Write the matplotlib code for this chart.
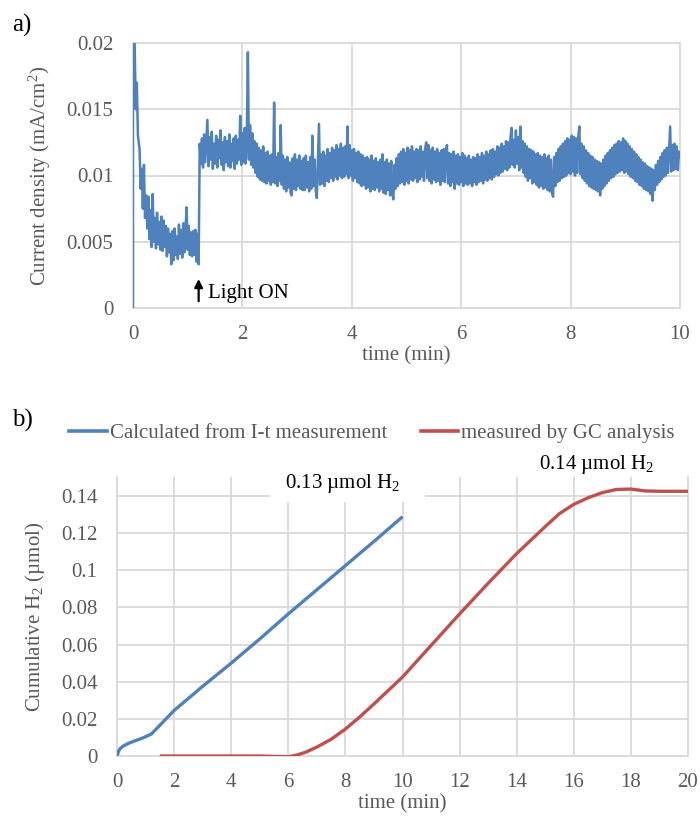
import numpy as np
import matplotlib
matplotlib.use("Agg")
import matplotlib.pyplot as plt
from matplotlib.ticker import FuncFormatter
from matplotlib.lines import Line2D
from matplotlib.patches import Rectangle

plt.rcParams['font.family'] = ['Liberation Serif', 'DejaVu Serif']
plt.rcParams['mathtext.fontset'] = 'custom'
plt.rcParams['mathtext.rm'] = 'Liberation Serif'
plt.rcParams['mathtext.it'] = 'Liberation Serif:italic'

blue = '#4f81bd'
red = '#c0504d'
grey_txt = '#595959'
grid_c = '#d9d9d9'
fs = 15

# ---- panel a: photocurrent (values in 1e-3 mA/cm2) ----
start_t = [0.0, 0.0, 0.01, 0.02, 0.03, 0.05, 0.07, 0.09]
start_j = [0, 30, 21, 28, 20, 15, 17, 13]

# sampled every 0.02 min from 0.12 to 10.00, one row per minute
rows_j = [
    [12.0, 9.0, 10.5, 7.5, 10.8, 6.8, 8.5, 6.0, 8.4, 5.2,
     7.4, 4.6, 8.6, 5.0, 6.8, 4.5, 7.2, 4.8, 6.5, 4.4,
     6.9, 4.3, 6.6, 4.6, 6.2, 3.9, 6.0, 4.2, 5.6, 3.3,
     5.8, 3.6, 6.0, 4.0, 5.4, 3.7, 6.3, 4.1, 5.9, 3.8,
     6.4, 4.2, 6.0, 7.6, 4.4, 6.2, 4.0, 5.7, 3.9, 5.8],
    [4.0, 5.9, 3.5, 5.6, 3.3, 12.4, 10.9, 12.8, 10.6, 13.1,
     11.0, 12.6, 14.2, 10.7, 12.9, 11.2, 13.3, 10.5, 12.4, 10.9,
     13.0, 10.6, 12.7, 11.3, 13.4, 10.8, 12.5, 10.4, 12.9, 11.0,
     12.6, 10.7, 13.1, 10.6, 12.4, 11.1, 12.8, 10.5, 13.0, 10.9,
     12.7, 11.2, 14.5, 10.8, 13.2, 11.0, 13.6, 10.9, 12.5, 19.3],
    [11.2, 13.8, 10.8, 13.2, 10.6, 12.6, 10.2, 12.4, 9.9, 12.1,
     9.7, 11.9, 9.6, 12.2, 9.5, 11.7, 9.4, 11.8, 9.6, 11.5,
     9.3, 11.6, 9.5, 15.5, 9.4, 11.4, 9.2, 11.7, 9.6, 13.8,
     9.3, 11.5, 9.0, 11.2, 8.8, 11.4, 9.1, 11.0, 8.7, 8.5,
     11.3, 9.0, 11.6, 8.9, 11.2, 9.2, 11.5, 9.0, 11.1, 8.9],
    [11.3, 8.9, 11.5, 9.1, 11.0, 8.8, 11.4, 9.0, 13.0, 9.2,
     11.2, 8.9, 8.3, 11.0, 13.9, 9.3, 11.6, 9.4, 11.8, 9.2,
     11.5, 9.6, 12.0, 9.5, 11.7, 9.8, 12.1, 9.6, 11.9, 9.9,
     12.3, 9.7, 12.0, 10.0, 12.4, 9.8, 12.1, 9.9, 12.2, 10.1,
     13.7, 9.8, 12.3, 10.0, 11.9, 9.6, 12.0, 9.8, 11.7, 9.5],
    [11.8, 9.4, 11.6, 9.2, 11.5, 9.3, 11.3, 9.0, 11.4, 9.1,
     11.2, 8.8, 11.5, 9.0, 11.1, 8.9, 11.3, 9.1, 11.0, 8.8,
     11.2, 9.0, 11.6, 8.7, 11.0, 8.6, 11.2, 8.9, 10.9, 8.5,
     11.1, 8.7, 8.2, 10.8, 9.0, 11.3, 9.2, 11.6, 9.4, 11.8,
     9.5, 12.0, 9.3, 11.7, 9.6, 12.1, 9.4, 11.9, 9.7, 12.2],
    [9.6, 11.8, 9.8, 12.0, 9.5, 11.9, 9.7, 12.2, 9.9, 11.8,
     9.6, 12.0, 12.5, 9.8, 12.3, 9.6, 11.9, 9.4, 12.1, 9.7,
     11.8, 9.5, 12.0, 9.6, 11.7, 9.3, 11.9, 9.6, 12.0, 9.5,
     11.8, 12.3, 9.4, 11.7, 9.2, 11.6, 9.5, 11.8, 9.0, 11.5,
     9.4, 11.6, 9.3, 11.4, 9.5, 11.7, 9.2, 11.5, 9.4, 11.3],
    [9.3, 11.5, 9.4, 11.2, 9.2, 11.4, 9.5, 11.3, 9.3, 11.6,
     9.5, 11.4, 9.6, 11.7, 9.4, 11.5, 9.7, 11.8, 9.6, 11.6,
     9.8, 11.9, 9.7, 12.0, 9.9, 11.8, 10.1, 12.2, 10.0, 12.1,
     10.2, 12.4, 10.3, 12.2, 10.5, 12.6, 10.4, 12.5, 10.6, 12.8,
     13.6, 10.8, 12.7, 10.6, 13.4, 10.9, 12.9, 10.4, 13.7, 10.6],
    [12.6, 10.2, 12.4, 9.9, 12.2, 9.6, 12.0, 9.8, 11.9, 9.4,
     11.8, 9.5, 11.6, 9.3, 11.7, 9.1, 11.5, 9.2, 11.4, 9.0,
     11.6, 9.1, 11.3, 8.9, 11.5, 8.8, 11.2, 8.7, 8.4, 11.4,
     9.2, 11.7, 9.5, 12.0, 9.6, 12.2, 9.8, 12.4, 9.9, 12.6,
     10.0, 12.8, 10.2, 12.7, 10.1, 13.0, 10.3, 12.9, 10.0, 12.8],
    [10.2, 12.9, 13.7, 10.1, 12.4, 9.8, 12.2, 9.6, 11.9, 9.4,
     11.7, 9.2, 11.5, 9.1, 11.4, 9.0, 11.2, 8.9, 11.1, 8.8,
     11.0, 8.5, 10.9, 9.0, 11.2, 9.2, 11.5, 9.4, 11.7, 9.6,
     11.9, 9.8, 12.1, 9.9, 12.3, 10.1, 12.4, 10.2, 12.6, 10.3,
     12.5, 10.4, 12.8, 10.2, 12.6, 10.3, 12.4, 10.1, 12.2, 9.9],
    [12.0, 9.8, 11.8, 9.6, 11.6, 9.5, 11.4, 9.3, 11.2, 9.2,
     11.0, 9.0, 10.9, 8.9, 10.7, 8.8, 10.6, 8.6, 10.5, 8.1,
     10.4, 8.9, 10.8, 9.3, 11.1, 9.5, 11.4, 9.7, 11.7, 9.9,
     11.9, 10.0, 12.1, 10.2, 12.0, 13.7, 10.3, 12.3, 10.4, 12.4,
     10.5, 12.2, 10.4, 11.8, 11.4],
]

# ---- panel b: cumulative H2 (umol) ----
calc_t = [0, 0.05, 0.1, 0.2, 0.4, 0.6, 0.9, 1.2, 1.5, 2, 3, 4, 5, 6, 7, 8, 9, 10]
calc_h2 = [0, 0.0025, 0.0038, 0.0052, 0.0068, 0.0080, 0.0097, 0.0118, 0.0165, 0.0245,
           0.0375, 0.050, 0.063, 0.0765, 0.0895, 0.1025, 0.1155, 0.1288]
gc_t = [1.5, 3, 5, 5.5, 6, 6.3, 6.6, 7, 7.5, 8, 8.5, 9, 10, 11, 12, 13, 14, 15,
        15.5, 16, 16.5, 17, 17.5, 18, 18.5, 19, 20]
gc_h2 = [0, 0, 0, -0.0002, -0.0004, 0.0005, 0.002, 0.0048, 0.009, 0.0145, 0.021, 0.028,
         0.0425, 0.0595, 0.0765, 0.093, 0.109, 0.1235, 0.1305, 0.1355, 0.139, 0.1418,
         0.1435, 0.1437, 0.1427, 0.1425, 0.1425]

j_grid = np.concatenate(rows_j)
grid_t = np.round(0.12 + 0.02 * np.arange(len(j_grid)), 2)
t_a = np.concatenate([start_t, grid_t])
j_a = np.concatenate([start_j, j_grid]) / 1000.0

fig = plt.figure(figsize=(7.0, 8.17), dpi=100)
fmt = FuncFormatter(lambda v, p: '%g' % round(v, 4))


def style(ax):
    ax.grid(True, color=grid_c, linewidth=1.3, zorder=0)
    ax.set_axisbelow(True)
    for s in ax.spines.values():
        s.set_color(grid_c)
        s.set_linewidth(1.3)
    ax.tick_params(length=0, labelsize=fs, labelcolor=grey_txt)
    ax.tick_params(axis='y', pad=14)
    ax.tick_params(axis='x', pad=12)
    ax.yaxis.set_major_formatter(fmt)


ax1 = fig.add_axes([133 / 700, 1 - 308 / 817, 547 / 700, 265 / 817])
style(ax1)
ax1.plot(t_a, j_a, color=blue, lw=1.8, zorder=3)
ax1.set_xlim(0, 10)
ax1.set_ylim(0, 0.02)
ax1.set_xticks(range(0, 11, 2))
ax1.set_yticks([0, 0.005, 0.01, 0.015, 0.02])
ax1.set_xlabel('time (min)', fontsize=fs, color=grey_txt, labelpad=2)
ax1.set_ylabel('Current density (mA/cm$^2$)', fontsize=fs, color=grey_txt, labelpad=10)
ax1.annotate('', xy=(1.2, 0.0024), xytext=(1.2, 0.0003),
             arrowprops=dict(arrowstyle='-|>', color='black', lw=1.6, mutation_scale=12))
ax1.text(1.38, 0.0011, 'Light ON', fontsize=fs, color='black', va='center')
fig.text(12 / 700, 1 - 25 / 817, 'a)', fontsize=18, va='center')

ax2 = fig.add_axes([117 / 700, 1 - 756 / 817, 571 / 700, 279 / 817])
style(ax2)
ax2.spines['top'].set_visible(False)
ax2.plot(calc_t, calc_h2, color=blue, lw=2.4, zorder=3, solid_capstyle='butt')
ax2.plot(gc_t, gc_h2, color=red, lw=2.4, zorder=3, solid_capstyle='butt')
ax2.set_xlim(0, 20)
ax2.set_ylim(0, 0.1502)
ax2.set_xticks(range(0, 21, 2))
ax2.set_yticks(np.arange(0, 0.141, 0.02))
ax2.set_xlabel('time (min)', fontsize=fs, color=grey_txt, labelpad=2)
ax2.set_ylabel('Cumulative H$_2$ (µmol)', fontsize=fs, color=grey_txt, labelpad=10)
ax2.add_patch(Rectangle((5.36, 0.1368), 5.43, 0.02, facecolor='white', edgecolor='none',
                        zorder=1, clip_on=False))
ax2.text(7.9, 0.1465, '0.13 µmol H$_2$', fontsize=fs, ha='center', va='center', zorder=4)
ax2.text(16.8, 0.1567, '0.14 µmol H$_2$', fontsize=fs, ha='center', va='center',
         zorder=4, clip_on=False)
fig.text(12 / 700, 1 - 420 / 817, 'b)', fontsize=18, va='center')

handles = [Line2D([], [], color=blue, lw=2.6), Line2D([], [], color=red, lw=2.6)]
leg = fig.legend(handles, ['Calculated from I-t measurement', 'measured by GC analysis'],
                 loc='center', bbox_to_anchor=(372 / 700, 1 - 433 / 817), ncol=2,
                 frameon=False, fontsize=fs, handlelength=1.8, handletextpad=0.15,
                 columnspacing=1.6)
for t in leg.get_texts():
    t.set_color(grey_txt)

fig.savefig('out.png', dpi=100)
